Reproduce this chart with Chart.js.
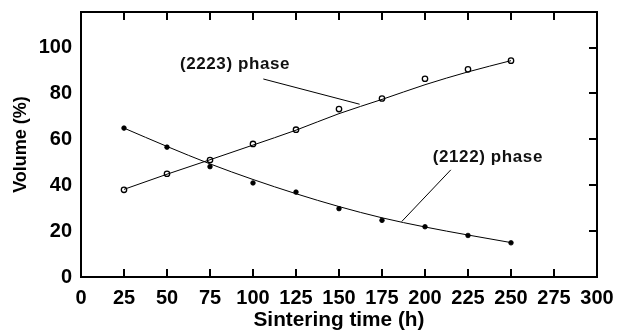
<!DOCTYPE html>
<html>
<head>
<meta charset="utf-8">
<script src="https://cdn.jsdelivr.net/npm/chart.js@4/dist/chart.umd.min.js"></script>
<style>
  html, body { margin: 0; padding: 0; background: #fff; }
  #wrap { width: 618px; height: 334px; }
</style>
</head>
<body>
<div id="wrap"><canvas id="c" width="618" height="334"></canvas></div>
<script>
// ---- data ----
const sinteringTime = [25, 50, 75, 100, 125, 150, 175, 200, 225, 250];
// measured points
const phase2223 = [38, 45, 51, 58, 64.2, 73.2, 77.8, 86.4, 90.5, 94.3];
const phase2122 = [64.9, 56.6, 48.1, 41, 37, 29.8, 24.7, 21.9, 18.1, 14.9];
// smooth fitted curves drawn through the points
const fit2223 = [38.2, 44.8, 51.1, 57.5, 64.0, 71.2, 77.4, 83.8, 89.4, 94.3];
const fit2122 = [64.9, 56.9, 49.3, 42.5, 36.3, 30.7, 25.8, 21.8, 18.3, 15.0];
const xTicks = [0, 25, 50, 75, 100, 125, 150, 175, 200, 225, 250, 275, 300];
const yTicks = [0, 20, 40, 60, 80, 100];
const labels = ["(2223) phase", "(2122) phase"];
const labelAnchors = [[57.5, 92.8], [204.5, 52]];
const leader2223 = [[106, 86.3], [162, 75.3]];
const leader2122 = [[215, 46.7], [186.5, 24.2]];

const pts = (xs, ys) => xs.map((x, i) => ({x: x, y: ys[i]}));
const pairPts = arr => arr.map(p => ({x: p[0], y: p[1]}));

const innerTicks = {
  id: 'innerTicks',
  afterDraw(chart) {
    const {ctx, chartArea: a, scales} = chart;
    const L = 8;
    ctx.save();
    ctx.strokeStyle = '#000';
    ctx.lineWidth = 2;
    ctx.beginPath();
    xTicks.forEach(v => {
      if (v === xTicks[0] || v === xTicks[xTicks.length - 1]) return;
      const px = Math.round(scales.x.getPixelForValue(v));
      ctx.moveTo(px, a.bottom); ctx.lineTo(px, a.bottom - L);
      ctx.moveTo(px, a.top); ctx.lineTo(px, a.top + L);
    });
    yTicks.forEach(v => {
      if (v === 0) return;
      const py = Math.round(scales.y.getPixelForValue(v));
      ctx.moveTo(a.right, py); ctx.lineTo(a.right - L, py);
    });
    ctx.stroke();
    // phase labels
    ctx.fillStyle = '#111';
    ctx.font = 'bold 17px "Liberation Sans", Arial, sans-serif';
    try { ctx.letterSpacing = '0.6px'; } catch (e) {}
    ctx.textAlign = 'left';
    ctx.textBaseline = 'middle';
    labels.forEach((t, i) => {
      const px = scales.x.getPixelForValue(labelAnchors[i][0]);
      const py = scales.y.getPixelForValue(labelAnchors[i][1]);
      ctx.fillText(t, px, py);
    });
    ctx.restore();
  }
};

const baseLine = {showLine: true, borderColor: '#000', borderWidth: 1, pointRadius: 0, fill: false};
const noPad = s => { s.paddingTop = 0; s.paddingBottom = 0; s.paddingLeft = 0; s.paddingRight = 0; };
const FONT = '"Liberation Sans", Arial, sans-serif';

new Chart(document.getElementById('c'), {
  type: 'scatter',
  data: {
    datasets: [
      Object.assign({}, baseLine, {label: 'fit2223', data: pts(sinteringTime, fit2223), cubicInterpolationMode: 'monotone'}),
      Object.assign({}, baseLine, {label: 'fit2122', data: pts(sinteringTime, fit2122), cubicInterpolationMode: 'monotone'}),
      Object.assign({}, baseLine, {label: 'leader1', data: pairPts(leader2223)}),
      Object.assign({}, baseLine, {label: 'leader2', data: pairPts(leader2122)}),
      {
        label: labels[0], data: pts(sinteringTime, phase2223), showLine: false,
        pointRadius: 2.7, pointBorderWidth: 1.3, pointBackgroundColor: '#fff', pointBorderColor: '#000'
      },
      {
        label: labels[1], data: pts(sinteringTime, phase2122), showLine: false,
        pointRadius: 2.3, pointBorderWidth: 0.8, pointBackgroundColor: '#000', pointBorderColor: '#000'
      }
    ]
  },
  options: {
    responsive: false,
    animation: false,
    events: [],
    layout: {padding: {top: 12, right: 21, left: 0, bottom: 0}},
    plugins: {legend: {display: false}, tooltip: {enabled: false}},
    scales: {
      x: {
        type: 'linear', position: 'bottom', min: 0, max: 300,
        afterBuildTicks: s => { s.ticks = xTicks.map(v => ({value: v})); },
        afterFit: s => { s.height = 57; noPad(s); },
        grid: {display: false, drawTicks: false},
        border: {display: true, color: '#000', width: 2},
        ticks: {color: '#000', padding: 9, maxRotation: 0, autoSkip: false,
                font: {family: FONT, size: 20, weight: 'bold'}},
        title: {display: true, text: 'Sintering time (h)', color: '#000', padding: {top: 0, bottom: 1},
                font: {family: FONT, size: 20.8, weight: 'bold'}}
      },
      y: {
        type: 'linear', position: 'left', min: 0, max: 115.5,
        afterBuildTicks: s => { s.ticks = yTicks.map(v => ({value: v})); },
        afterFit: s => { s.width = 81; noPad(s); },
        grid: {display: false, drawTicks: false},
        border: {display: true, color: '#000', width: 2},
        ticks: {color: '#000', padding: 9,
                font: {family: FONT, size: 20, weight: 'bold'}},
        title: {display: true, text: 'Volume (%)', color: '#000', padding: {top: 10, bottom: 0},
                font: {family: FONT, size: 18, weight: 'bold'}}
      },
      x2: {
        type: 'linear', position: 'top', min: 0, max: 300,
        afterFit: s => { s.height = 0; noPad(s); },
        grid: {display: false, drawTicks: false},
        border: {display: true, color: '#000', width: 2},
        ticks: {display: false}
      },
      y2: {
        type: 'linear', position: 'right', min: 0, max: 115.5,
        afterFit: s => { s.width = 0; noPad(s); },
        grid: {display: false, drawTicks: false},
        border: {display: true, color: '#000', width: 2},
        ticks: {display: false}
      }
    }
  },
  plugins: [innerTicks]
});
</script>
</body>
</html>
